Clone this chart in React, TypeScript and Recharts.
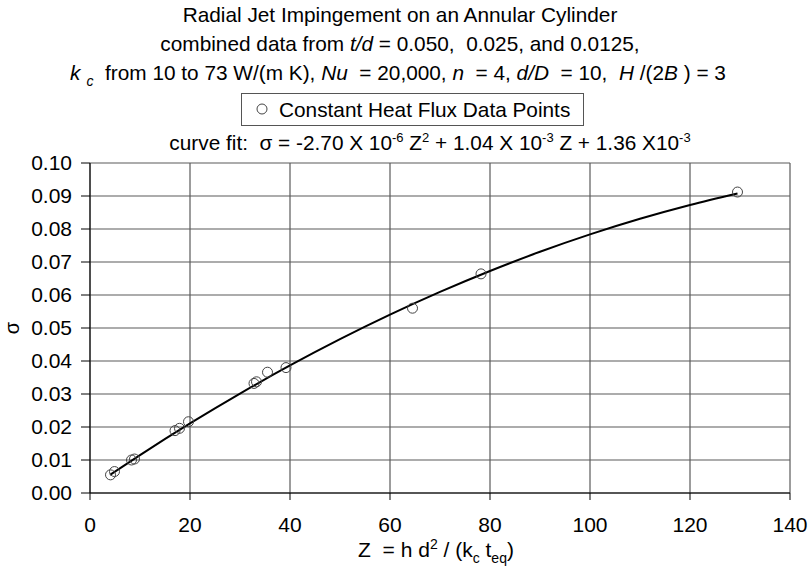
import { CartesianGrid, ComposedChart, Line, Scatter, XAxis, YAxis } from "recharts";

// measured points (Z, sigma)
const zData = [4.1, 4.9, 8.3, 8.9, 17.0, 17.9, 19.7, 32.8, 33.3, 35.5, 39.2, 64.5, 78.2, 129.5];
const sigmaData = [0.0055, 0.0065, 0.01, 0.0103, 0.0189, 0.0196, 0.0216, 0.0332, 0.0337, 0.0366, 0.038, 0.056, 0.0664, 0.0912];

// quadratic fit coefficients, as printed above the plot
const fitA = -2.7e-6;
const fitB = 1.04e-3;
const fitC = 1.36e-3;
const fitZ = [4, 10, 20, 30, 40, 50, 60, 70, 80, 90, 100, 110, 120, 129.5];

const xTicks = [0, 20, 40, 60, 80, 100, 120, 140];
const yTicks = [0, 0.01, 0.02, 0.03, 0.04, 0.05, 0.06, 0.07, 0.08, 0.09, 0.1];

const points = zData.map((z, i) => ({ z, sigma: sigmaData[i] }));
const curve = fitZ.map((z) => ({ z, sigma: fitA * z * z + fitB * z + fitC }));

const FONT = "'Liberation Sans', Arial, sans-serif";
const SUP = 8;
const SUB = 6;

const OpenCircle = (props: any) => (
  <circle cx={props.cx} cy={props.cy} r={5} fill="none" stroke="#444" strokeWidth={1} />
);

const Headings = () => (
  <svg
    width={811}
    height={570}
    style={{ position: "absolute", left: 0, top: 0, pointerEvents: "none" }}
    fontFamily={FONT}
  >
    <g fontSize={20.8} fill="#000" textAnchor="middle">
      <text x={400} y={22} xmlSpace="preserve">Radial Jet Impingement on an Annular Cylinder</text>
      <text x={400} y={51} xmlSpace="preserve">
        combined data from <tspan fontStyle="italic">t/d</tspan> = 0.050,  0.025, and 0.0125,
      </text>
      <text x={398} y={80} xmlSpace="preserve">
        <tspan fontStyle="italic">k</tspan>
        <tspan dx={6} dy={SUB} fontSize={14} fontStyle="italic">c</tspan>
        <tspan dy={-SUB}>  from 10 to 73 W/(m K), </tspan>
        <tspan fontStyle="italic">Nu</tspan>
        <tspan>  = 20,000, </tspan>
        <tspan fontStyle="italic">n</tspan>
        <tspan>  = 4, </tspan>
        <tspan fontStyle="italic">d/D</tspan>
        <tspan>  = 10,  </tspan>
        <tspan fontStyle="italic">H</tspan>
        <tspan> /(2</tspan>
        <tspan fontStyle="italic">B</tspan>
        <tspan> ) = 3</tspan>
      </text>
      <text x={430} y={150} xmlSpace="preserve">
        <tspan>curve fit:  σ = -2.70 X 10</tspan>
        <tspan dy={-SUP} fontSize={13}>-6</tspan>
        <tspan dy={SUP}> Z</tspan>
        <tspan dy={-SUP} fontSize={13}>2</tspan>
        <tspan dy={SUP}> + 1.04 X 10</tspan>
        <tspan dy={-SUP} fontSize={13}>-3</tspan>
        <tspan dy={SUP}> Z + 1.36 X10</tspan>
        <tspan dy={-SUP} fontSize={13}>-3</tspan>
      </text>
    </g>

    {/* legend */}
    <rect x={241.5} y={93.5} width={342} height={32} fill="#fff" stroke="#555" strokeWidth={1} />
    <circle cx={262} cy={109} r={5} fill="none" stroke="#444" strokeWidth={1} />
    <text x={279} y={116.5} fontSize={20.8} fill="#000">Constant Heat Flux Data Points</text>

    {/* axis titles */}
    <text x={14} y={328} fontSize={20} textAnchor="middle" transform="rotate(-90 14 328)" dominantBaseline="middle">σ</text>
    <text x={436} y={557} fontSize={21} textAnchor="middle" xmlSpace="preserve">
      <tspan>Z  = h d</tspan>
      <tspan dy={-SUP} fontSize={14}>2</tspan>
      <tspan dy={SUP}> / (k</tspan>
      <tspan dy={SUB} fontSize={14}>c</tspan>
      <tspan dy={-SUB}> t</tspan>
      <tspan dy={SUB} fontSize={14}>eq</tspan>
      <tspan dy={-SUB}>)</tspan>
    </text>
  </svg>
);

export default function App() {
  return (
    <div style={{ position: "absolute", left: 0, top: 0, width: 811, height: 570, background: "#fff" }}>
      <ComposedChart
        width={811}
        height={570}
        margin={{ top: 163, right: 21, bottom: 0, left: 0 }}
        style={{ fontFamily: FONT }}
      >
        <CartesianGrid stroke="#5a5a5a" strokeWidth={1.2} />
        <XAxis
          dataKey="z"
          type="number"
          domain={[0, 140]}
          ticks={xTicks}
          allowDataOverflow
          height={77}
          stroke="#000"
          tickSize={7}
          tickMargin={17}
          tick={{ fontSize: 21, fill: "#000" }}
        />
        <YAxis
          dataKey="sigma"
          type="number"
          domain={[0, 0.1]}
          ticks={yTicks}
          width={90}
          stroke="#000"
          tickSize={9}
          tickMargin={9}
          tickFormatter={(v: number) => v.toFixed(2)}
          tick={{ fontSize: 21, fill: "#000" }}
        />
        <Line
          data={curve}
          dataKey="sigma"
          type="monotone"
          stroke="#000"
          strokeWidth={2}
          dot={false}
          isAnimationActive={false}
        />
        <Scatter data={points} dataKey="sigma" shape={OpenCircle} isAnimationActive={false} />
      </ComposedChart>
      <Headings />
    </div>
  );
}
